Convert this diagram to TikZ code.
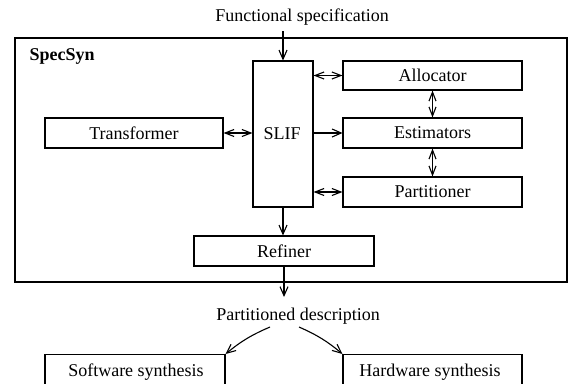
\documentclass[tikz,border=0pt]{standalone}
\usepackage{fontspec}
\setmainfont{Liberation Serif}
\usetikzlibrary{arrows.meta,calc}
\begin{document}
\begin{tikzpicture}[x=1pt,y=-1pt,line width=1.1pt,
  box/.style={draw,line width=1.1pt,inner sep=0pt,
    font=\fontsize{18}{20}\selectfont},
  lbl/.style={inner sep=0pt,font=\fontsize{18}{20}\selectfont},
  tip/.style={-{Straight Barb[length=9pt,width=8pt]}},
  dtip/.style={{Straight Barb[length=9pt,width=7pt]}-{Straight Barb[length=9pt,width=7pt]}}]
\useasboundingbox (0,0) rectangle (569,383);
\clip (0,0) rectangle (569,383);

% system frame
\node[box,minimum width=552,minimum height=244] (sys) at (291,160) {};
\node[lbl,font=\fontsize{18}{20}\selectfont\bfseries,anchor=west] (name) at (29,56) {SpecSyn};

% blocks inside the frame
\node[box,minimum width=60,minimum height=146] (slif) at (283,134) {};
\node[lbl] (sliftext) at (282,134) {SLIF};
\node[box,minimum width=179,minimum height=29] (alloc) at (432.5,75.5) {Allocator};
\node[box,minimum width=179,minimum height=30] (est) at (432.5,133) {Estimators};
\node[box,minimum width=179,minimum height=30] (part) at (432.5,192) {Partitioner};
\node[box,minimum width=178,minimum height=30] (trans) at (134,133) {Transformer};
\node[box,minimum width=180,minimum height=30] (ref) at (284,251) {Refiner};

% inputs and outputs
\node[lbl] (fs) at (302,17) {Functional specification};
\node[lbl] (pd) at (298,316) {Partitioned description};
\coordinate (fsin) at (283,31);
\coordinate (pdout) at (284,297);
\coordinate (pdl) at (270,327);
\coordinate (pdr) at (299,327);

% synthesis back ends
\node[box,minimum width=180,minimum height=60,anchor=north] (sw) at (135,354) {};
\node[lbl] (swt) at (136,372) {Software synthesis};
\node[box,minimum width=179,minimum height=60,anchor=north] (hw) at (432.5,354) {};
\node[lbl] (hwt) at (430,372) {Hardware synthesis};

% connectors
\draw[tip] (fsin) -- (slif.north);
\draw[dtip] (slif.east |- alloc) -- (alloc.west);
\draw[tip] (slif.east |- est) -- (est.west);
\draw[dtip] (slif.east |- part) -- (part.west);
\draw[dtip] (trans.east) -- (slif.west |- trans);
\draw[dtip] (alloc.south) -- (est.north);
\draw[dtip] (est.south) -- (part.north);
\draw[tip] (slif.south) -- (slif.south |- ref.north);
\draw[tip] (ref.south) -- (pdout);
\draw[tip] (pdl) to[bend right=8] (sw.north east);
\draw[tip] (pdr) to[bend left=8] (hw.north west);
\end{tikzpicture}
\end{document}
